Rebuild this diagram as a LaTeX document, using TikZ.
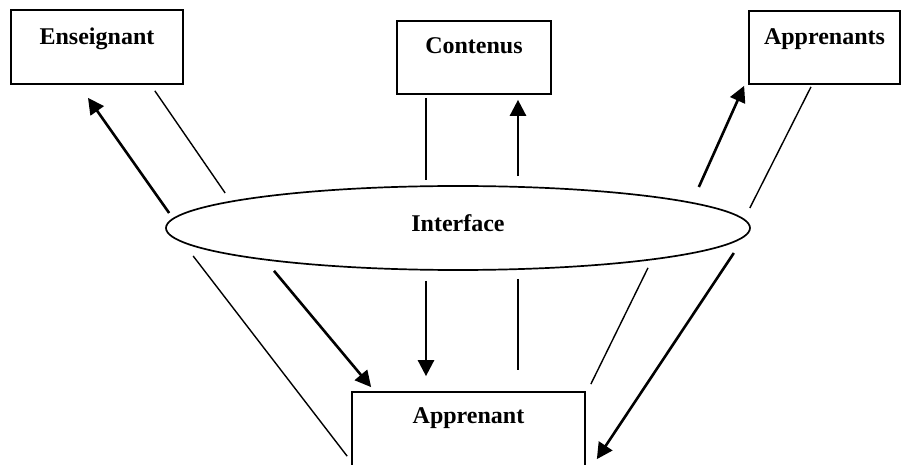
\documentclass[tikz,border=0pt]{standalone}
\usepackage{fontspec}
\setmainfont{Liberation Serif}
\usetikzlibrary{arrows.meta,shapes.geometric}
\tikzset{
  boite/.style={draw, line width=0.85pt, inner sep=0pt, font=\fontsize{12}{14}\selectfont\bfseries},
  trait/.style={line width=0.7pt},
  fleche/.style={line width=1.3pt, -{Triangle[length=8pt,width=8pt]}}
}
\begin{document}
\begin{tikzpicture}[x=0.5pt, y=-0.5pt, line cap=butt, line join=miter]
\useasboundingbox (0,0) rectangle (902,465);
% les boites
\node[boite, minimum width=86pt, text height=17.5pt, text depth=19.5pt] (ens) at (97,47) {Enseignant};
\node[boite, minimum width=77pt, text height=16.5pt, text depth=20pt] (cont) at (474,57.5) {Contenus};
\node[boite, minimum width=75.5pt, text height=17pt, text depth=19.5pt] (apps) at (824.5,47.5) {Apprenants};
\node[boite, ellipse, minimum width=292pt, minimum height=42pt, text height=8pt, text depth=4pt] (iface) at (458,228) {Interface};
\node[boite, minimum width=116.5pt, text height=16pt, text depth=24pt] (app) at (468.5,432) {Apprenant};
% vers le haut
\draw[fleche] ([shift={(4,-15)}]iface.west) -- ([shift={(-9,13)}]ens.south);
\draw[trait] ([shift={(-29,6)}]ens.south east) -- ([shift={(60,-35)}]iface.west);
\draw[trait] ([shift={(-48,3)}]cont.south) -- ([shift={(-32,-5)}]iface.north);
\draw[fleche] ([shift={(60,-9)}]iface.north) -- ([shift={(44,5)}]cont.south);
\draw[fleche] ([shift={(-52,-41)}]iface.east) -- ([shift={(-4,1)}]apps.south west);
\draw[trait] ([shift={(-13.5,2)}]apps.south) -- ([shift={(-1,-20)}]iface.east);
% vers le bas
\draw[trait] ([shift={(28,28)}]iface.west) -- ([shift={(-4,65)}]app.north west);
\draw[fleche] ([shift={(-184,0)}]iface.south) -- ([shift={(20,-4)}]app.north west);
\draw[fleche] ([shift={(-32,10)}]iface.south) -- ([shift={(-42.5,-15)}]app.north);
\draw[trait] ([shift={(60,8)}]iface.south) -- ([shift={(49.5,-21)}]app.north);
\draw[trait] ([shift={(190,-3)}]iface.south) -- ([shift={(5,-7)}]app.north east);
\draw[fleche] ([shift={(-17,25)}]iface.east) -- ([shift={(11,68)}]app.north east);
\end{tikzpicture}
\end{document}
